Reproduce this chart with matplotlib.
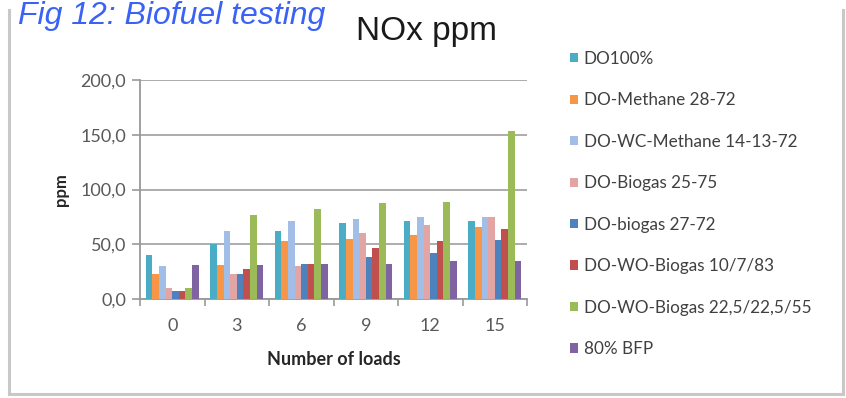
import numpy as np
import matplotlib
matplotlib.use('Agg')
import matplotlib.pyplot as plt
from matplotlib.lines import Line2D

# NOx emissions per load step, one list per fuel blend
loads = ['0', '3', '6', '9', '12', '15']
series_names = ['DO100%', 'DO-Methane 28-72', 'DO-WC-Methane 14-13-72', 'DO-Biogas 25-75',
                'DO-biogas 27-72', 'DO-WO-Biogas 10/7/83', 'DO-WO-Biogas 22,5/22,5/55', '80% BFP']
do100 = [40, 50, 62, 69, 71, 71]
do_methane = [23, 31, 53, 55, 58, 66]
do_wc_methane = [30, 62, 71, 73, 75, 75]
do_biogas_25 = [10, 23, 30, 60, 68, 75]
do_biogas_27 = [7, 23, 32, 38, 42, 54]
do_wo_biogas_10 = [7, 27, 32, 47, 53, 64]
do_wo_biogas_22 = [10, 77, 82, 88, 89, 153]
bfp80 = [31, 31, 32, 32, 35, 35]

all_series = [do100, do_methane, do_wc_methane, do_biogas_25,
              do_biogas_27, do_wo_biogas_10, do_wo_biogas_22, bfp80]
colors = ['#4BACC6', '#F79646', '#A3BEE6', '#E3A5A4', '#4F81BD', '#C0504D', '#9BBB59', '#8064A2']

W, H = 846, 398
fig = plt.figure(figsize=(W / 100, H / 100), dpi=100)

# outer chart frame
frame_kw = dict(color='#c8c8c8', lw=2.2, transform=fig.transFigure, clip_on=False)
fig.add_artist(Line2D([9 / W, 9 / W], [1 - 10 / H, 1 - 394 / H], **frame_kw))
fig.add_artist(Line2D([843 / W, 843 / W], [1 - 10 / H, 1 - 394 / H], **frame_kw))
fig.add_artist(Line2D([9 / W, 843 / W], [1 - 394 / H, 1 - 394 / H], **frame_kw))

ax = fig.add_axes([140 / W, 1 - 299 / H, (527 - 140) / W, (299 - 80) / H])

x = np.arange(len(loads))
n = len(all_series)
bw = 0.82 / n
for i, (vals, name, c) in enumerate(zip(all_series, series_names, colors)):
    ax.bar(x + (i - (n - 1) / 2) * bw, vals, bw, color=c, label=name, zorder=3)

ax.set_xlim(-0.5, len(loads) - 0.5)
ax.set_ylim(0, 200)
ax.set_yticks([0, 50, 100, 150, 200])
ax.set_yticklabels(['0,0', '50,0', '100,0', '150,0', '200,0'])
ax.set_xticks(x)
ax.set_xticklabels(loads)
ax.set_xticks(np.arange(-0.5, len(loads)), minor=True)
ax.tick_params(axis='x', which='major', length=0, pad=14)
ax.tick_params(axis='x', which='minor', length=5, color='#999999', width=1.2)
ax.tick_params(axis='y', length=6, color='#999999', width=1.2, pad=4)
for lab in ax.get_xticklabels() + ax.get_yticklabels():
    lab.set_family('Lato')
    lab.set_fontsize(13)
    lab.set_color('#595959')

ax.grid(axis='y', color='#a6a6a6', lw=1.3, zorder=0)
for s in ['top', 'right']:
    ax.spines[s].set_visible(False)
for s in ['left', 'bottom']:
    ax.spines[s].set_color('#999999')
    ax.spines[s].set_linewidth(1.3)

ax.set_xlabel('Number of loads', family='Lato', fontsize=13, fontweight='bold', color='#262626', labelpad=12)
ax.set_ylabel('ppm', family='Lato', fontsize=12, fontweight='bold', color='#262626', labelpad=8)

fig.text(426 / W, 1 - 40 / H, 'NOx ppm', family='Liberation Sans', fontsize=24,
         ha='center', va='baseline', color='#1a1a1a')
fig.text(18 / W, 1 - 24 / H, 'Fig 12: Biofuel testing', family='Liberation Sans', style='italic',
         fontsize=23, ha='left', va='baseline', color='#3a63f5')

handles, labels = ax.get_legend_handles_labels()
leg = fig.legend(handles, labels, loc='upper left', bbox_to_anchor=(563 / W, 1 - 44 / H),
                 frameon=False, prop={'family': 'Lato', 'size': 12.3},
                 handlelength=0.45, handleheight=0.45, handletextpad=0.35,
                 labelspacing=1.49, borderaxespad=0)
for t in leg.get_texts():
    t.set_color('#404040')

fig.savefig('out.png', dpi=100)
